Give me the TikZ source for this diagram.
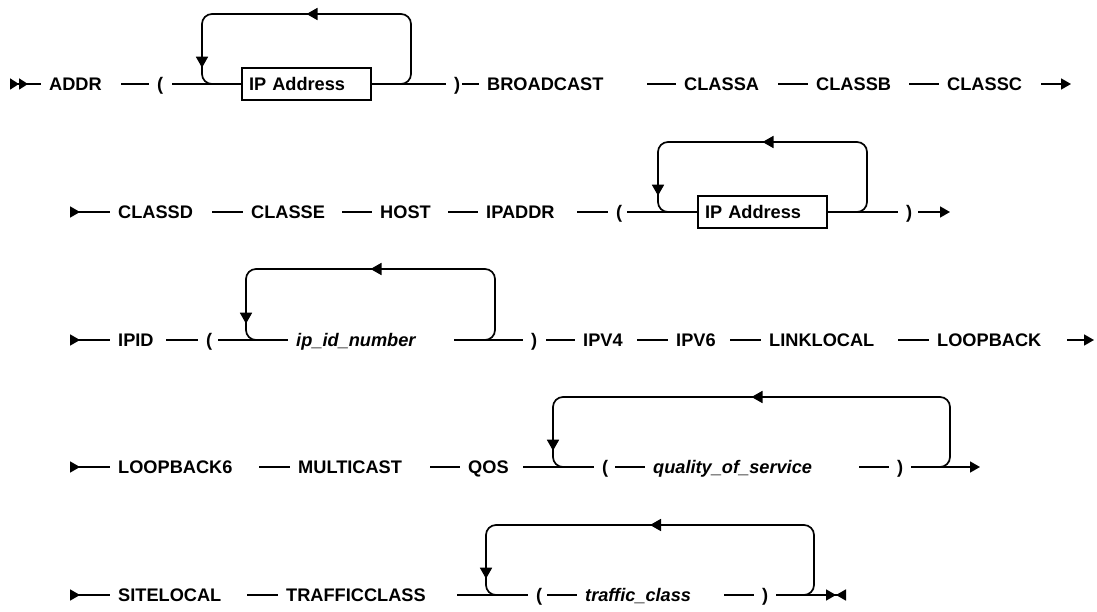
\documentclass[tikz,border=0pt]{standalone}
\usepackage{fontspec}
\setmainfont{Liberation Sans}
\usetikzlibrary{arrows.meta,decorations.markings}
\newcommand{\railsize}{\fontsize{18.2}{22}\selectfont}
\tikzset{kw/.style={anchor=west, inner sep=0pt, text height=13pt, text depth=0pt, align=left}}
\tikzset{var/.style={kw, font=\railsize\bfseries\itshape}}
\tikzset{ipbox/.style={draw, line width=1.7pt, minimum height=32pt, text width=115pt,
    inner xsep=7pt, inner ysep=0pt, align=left, text height=13pt, text depth=0pt}}
\tikzset{rail/.style={line width=1.7pt, shorten >=8pt}}
\tikzset{twostart/.style={{Triangle[reversed,length=9pt,width=11pt]Triangle[reversed,length=9pt,width=11pt]}-}}
\tikzset{rowin/.style={{Triangle[reversed,length=10pt,width=11pt]}-}}
\tikzset{rowout/.style={-{Triangle[length=10pt,width=11pt]}, shorten >=0pt}}
\tikzset{stopmark/.style={-{Triangle[length=10pt,width=11pt]Triangle[reversed,length=10pt,width=11pt]}, shorten >=0pt}}
\tikzset{loopback/.style={line width=1.7pt, rounded corners=10pt, decoration={
      markings,
      mark=at position 0.5 with {\arrow{Triangle[length=11pt,width=12pt]}},
      mark=at position -32pt with {\arrow{Triangle[length=11pt,width=12pt]}}},postaction={decorate}}}

\begin{document}
\begin{tikzpicture}[x=1pt, y=-1pt, font=\railsize\bfseries]
  \useasboundingbox (0,0) rectangle (1097,612);
  % row 1
  \coordinate (st1) at (10,84);
  \node[kw, text width=72pt] (addr) at (49,84) {ADDR};
  \node[kw, text width=15pt] (lpa) at (157,84) {(};
  \node[ipbox] (box1) at (306.5,84) {IP Address};
  \node[kw, text width=8pt] (rpa) at (454,84) {)};
  \node[kw, text width=160pt] (bcast) at (487,84) {BROADCAST};
  \node[kw, text width=94pt] (clsa) at (684,84) {CLASSA};
  \node[kw, text width=93pt] (clsb) at (816,84) {CLASSB};
  \node[kw, text width=94pt] (clsc) at (947,84) {CLASSC};
  \coordinate (en1) at (1071,84);
  \coordinate (la1) at (202,84);
  \coordinate (lb1) at (411,84);
  \draw[rail, twostart] (st1) -- (addr);
  \draw[rail] (addr) -- (lpa);
  \draw[rail, shorten >=0pt] (lpa) -- (box1);
  \draw[rail] (box1) -- (rpa);
  \draw[rail] (rpa) -- (bcast);
  \draw[rail] (bcast) -- (clsa);
  \draw[rail] (clsa) -- (clsb);
  \draw[rail] (clsb) -- (clsc);
  \draw[rail, rowout] (clsc) -- (en1);
  \draw[loopback] ([xshift=-20pt]lb1) -- (lb1) -- ++(0,-70) -| (la1) -- ++(20,0);
  % row 2
  \coordinate (st2) at (70,212);
  \node[kw, text width=94pt] (clsd) at (118,212) {CLASSD};
  \node[kw, text width=91pt] (clse) at (251,212) {CLASSE};
  \node[kw, text width=68pt] (host) at (380,212) {HOST};
  \node[kw, text width=91pt] (ipaddr) at (486,212) {IPADDR};
  \node[kw, text width=11pt] (lpb) at (616,212) {(};
  \node[ipbox] (box2) at (762.5,212) {IP Address};
  \node[kw, text width=12pt] (rpb) at (906,212) {)};
  \coordinate (en2) at (950,212);
  \coordinate (la2) at (658,212);
  \coordinate (lb2) at (867,212);
  \draw[rail, rowin] (st2) -- (clsd);
  \draw[rail] (clsd) -- (clse);
  \draw[rail] (clse) -- (host);
  \draw[rail] (host) -- (ipaddr);
  \draw[rail] (ipaddr) -- (lpb);
  \draw[rail, shorten >=0pt] (lpb) -- (box2);
  \draw[rail] (box2) -- (rpb);
  \draw[rail, rowout] (rpb) -- (en2);
  \draw[loopback] ([xshift=-20pt]lb2) -- (lb2) -- ++(0,-70) -| (la2) -- ++(20,0);
  % row 3
  \coordinate (st3) at (70,340);
  \node[kw, text width=48pt] (ipid) at (118,340) {IPID};
  \node[kw, text width=12pt] (lpc) at (206,340) {(};
  \node[var, text width=158pt] (ipnum) at (296,340) {ip\_id\_number};
  \node[kw, text width=15pt] (rpc) at (531,340) {)};
  \node[kw, text width=54pt] (ipv4) at (583,340) {IPV4};
  \node[kw, text width=54pt] (ipv6) at (676,340) {IPV6};
  \node[kw, text width=129pt] (llocal) at (769,340) {LINKLOCAL};
  \node[kw, text width=130pt] (lback) at (937,340) {LOOPBACK};
  \coordinate (en3) at (1094,340);
  \coordinate (la3) at (246,340);
  \coordinate (lb3) at (495,340);
  \draw[rail, rowin] (st3) -- (ipid);
  \draw[rail] (ipid) -- (lpc);
  \draw[rail] (lpc) -- (ipnum);
  \draw[rail] (ipnum) -- (rpc);
  \draw[rail] (rpc) -- (ipv4);
  \draw[rail] (ipv4) -- (ipv6);
  \draw[rail] (ipv6) -- (llocal);
  \draw[rail] (llocal) -- (lback);
  \draw[rail, rowout] (lback) -- (en3);
  \draw[loopback] ([xshift=-20pt]lb3) -- (lb3) -- ++(0,-71) -| (la3) -- ++(20,0);
  % row 4
  \coordinate (st4) at (70,467);
  \node[kw, text width=141pt] (lback6) at (118,467) {LOOPBACK6};
  \node[kw, text width=132pt] (mcast) at (298,467) {MULTICAST};
  \node[kw, text width=55pt] (qos) at (468,467) {QOS};
  \node[kw, text width=13pt] (lpd) at (602,467) {(};
  \node[var, text width=206pt] (qosv) at (653,467) {quality\_of\_service};
  \node[kw, text width=14pt] (rpd) at (897,467) {)};
  \coordinate (en4) at (980,467);
  \coordinate (la4) at (553,467);
  \coordinate (lb4) at (950,467);
  \draw[rail, rowin] (st4) -- (lback6);
  \draw[rail] (lback6) -- (mcast);
  \draw[rail] (mcast) -- (qos);
  \draw[rail] (qos) -- (lpd);
  \draw[rail] (lpd) -- (qosv);
  \draw[rail] (qosv) -- (rpd);
  \draw[rail, rowout] (rpd) -- (en4);
  \draw[loopback] ([xshift=-20pt]lb4) -- (lb4) -- ++(0,-70) -| (la4) -- ++(20,0);
  % row 5
  \coordinate (st5) at (70,595);
  \node[kw, text width=129pt] (slocal) at (118,595) {SITELOCAL};
  \node[kw, text width=171pt] (tclass) at (286,595) {TRAFFICCLASS};
  \node[kw, text width=11pt] (lpe) at (536,595) {(};
  \node[var, text width=139pt] (tcv) at (585,595) {traffic\_class};
  \node[kw, text width=14pt] (rpe) at (762,595) {)};
  \coordinate (en5) at (846,595);
  \coordinate (la5) at (486,595);
  \coordinate (lb5) at (814,595);
  \draw[rail, rowin] (st5) -- (slocal);
  \draw[rail] (slocal) -- (tclass);
  \draw[rail] (tclass) -- (lpe);
  \draw[rail] (lpe) -- (tcv);
  \draw[rail] (tcv) -- (rpe);
  \draw[rail, stopmark] (rpe) -- (en5);
  \draw[loopback] ([xshift=-20pt]lb5) -- (lb5) -- ++(0,-70) -| (la5) -- ++(20,0);
\end{tikzpicture}
\end{document}
